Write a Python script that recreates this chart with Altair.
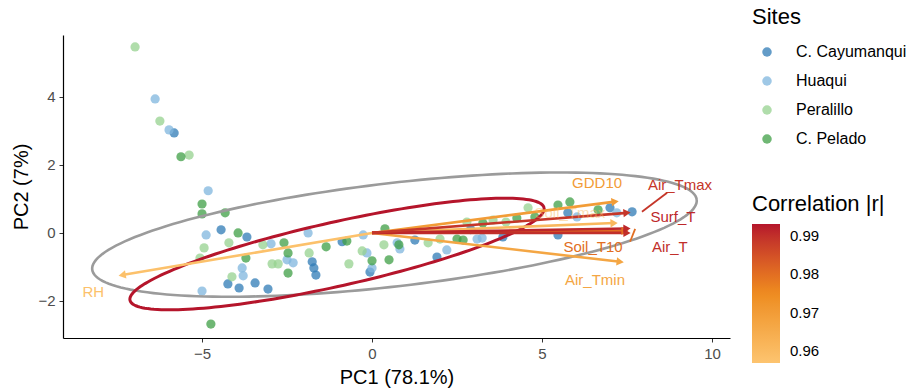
import altair as alt
import pandas as pd
import numpy as np

# ---------------- data ----------------
site_order = ["C. Cayumanqui", "Huaqui", "Peralillo", "C. Pelado"]
site_colors = ["#2f7bb6", "#7fb6dd", "#96d28f", "#3f9f45"]

cay_x = [-5.82, -4.44, -3.68, -4.24, -3.91, -3.44, -3.06, -1.76, -1.71, -1.65, -0.88, -0.06, 1.26, 1.91, 3.85, 5.76, 7.00, 7.65, 5.47, 2.90]
cay_y = [2.94, 0.09, -0.12, -1.50, -1.62, -1.47, -1.65, -0.85, -1.03, -1.24, -0.26, -1.15, -0.21, -0.71, -0.12, 0.59, 0.74, 0.62, -0.06, 0.10]

hua_x = [-6.38, -5.97, -4.82, -4.88, -3.82, -3.79, -5.00, -2.97, -2.50, -2.32, -1.88, -0.26, -0.15, 0.00, 0.74, 0.82, 2.20, 3.09, 3.24, 6.03, 7.20]
hua_y = [3.94, 3.03, 1.24, -0.06, -1.03, -1.26, -1.71, -0.32, -0.79, -0.88, 0.00, -0.06, -0.59, -1.03, -0.29, -0.47, -0.50, -0.18, -0.15, 0.47, 0.59]

per_x = [-6.97, -6.24, -5.38, -4.21, -4.94, -5.06, -4.12, -3.21, -2.94, -2.76, -1.85, -0.68, -0.29, 0.35, 1.65, 2.00, 2.79, 3.56, 3.94, 4.59]
per_y = [5.47, 3.29, 2.29, -0.29, -0.44, -0.74, -1.29, -0.35, -0.91, -0.91, -0.59, -0.91, -0.53, -0.35, -0.29, -0.18, 0.32, 0.38, 0.32, 0.74]

pel_x = [-5.62, -5.00, -5.00, -4.32, -3.94, -3.71, -4.74, -2.59, -2.47, -2.47, -1.35, -0.74, 0.00, 0.38, 0.50, 0.79, 2.50, 2.68, 3.26, 4.26, 4.79, 5.47, 5.82, 6.65]
pel_y = [2.24, 0.85, 0.56, 0.59, 0.00, -0.74, -2.68, -0.29, -0.59, -1.18, -0.41, -0.24, -0.82, 0.12, -0.79, -0.35, -0.18, -0.21, 0.29, 0.44, 0.47, 0.82, 0.91, 0.68]

var_names = ["RH", "Air_Tmin", "GDD10", "Soil_Tmax", "Soil_T10", "Air_T", "Surf_T", "Air_Tmax"]
var_pc1 = [-7.35, 7.30, 7.15, 7.12, 7.44, 7.50, 7.50, 7.50]
var_pc2 = [-1.24, -0.85, 0.92, 0.29, 0.06, 0.00, 0.13, 0.59]
var_r = [0.958, 0.967, 0.970, 0.961, 0.980, 0.990, 0.991, 0.989]
lab_x = [-8.20, 6.56, 6.62, 5.82, 6.50, 8.76, 8.85, 9.06]
lab_y = [-1.74, -1.38, 1.47, 0.59, -0.41, -0.41, 0.47, 1.41]

seg_names = ["Air_Tmax", "Soil_T10"]
seg_x1 = [7.94, 7.74]
seg_y1 = [0.62, 0.12]
seg_x2 = [8.68, 7.59]
seg_y2 = [1.18, -0.26]
seg_r = [0.989, 0.980]

ell_names = ["all", "group"]
ell_cx = [0.66, -1.03]
ell_cy = [-0.05, -0.62]
ell_a = [8.95, 6.24]
ell_b = [1.52, 0.94]
ell_deg = [6.6, 12.6]

x_ticks = [-5, 0, 5, 10]
y_ticks = [-2, 0, 2, 4]
x_dom = [-9.09, 10.53]
y_dom = [-3.09, 5.82]
r_ticks = [0.96, 0.97, 0.98, 0.99]
r_dom = [0.957, 0.993]
r_colors = ["#fdc46f", "#ee8c1f", "#b5152b"]

# ---------------- tables ----------------
pts = pd.concat([
    pd.DataFrame({"PC1": cay_x, "PC2": cay_y, "Site": site_order[0]}),
    pd.DataFrame({"PC1": hua_x, "PC2": hua_y, "Site": site_order[1]}),
    pd.DataFrame({"PC1": per_x, "PC2": per_y, "Site": site_order[2]}),
    pd.DataFrame({"PC1": pel_x, "PC2": pel_y, "Site": site_order[3]}),
], ignore_index=True)

arr = pd.DataFrame({"var": var_names, "pc1": var_pc1, "pc2": var_pc2, "r": var_r,
                    "lx": lab_x, "ly": lab_y, "x0": 0.0, "y0": 0.0})
segs = pd.DataFrame({"var": seg_names, "x1": seg_x1, "y1": seg_y1, "x2": seg_x2, "y2": seg_y2, "r": seg_r})

rows = []
t = np.linspace(0, 2 * np.pi, 181)
for n, cx, cy, a, b, d in zip(ell_names, ell_cx, ell_cy, ell_a, ell_b, ell_deg):
    th = np.deg2rad(d)
    ex = cx + a * np.cos(t) * np.cos(th) - b * np.sin(t) * np.sin(th)
    ey = cy + a * np.cos(t) * np.sin(th) + b * np.sin(t) * np.cos(th)
    for i, (u, v) in enumerate(zip(ex, ey)):
        rows.append({"ell": n, "ex": u, "ey": v, "i": i})
ell = pd.DataFrame(rows)

# ---------------- scales ----------------
xs = alt.Scale(domain=x_dom, nice=False, zero=False)
ys = alt.Scale(domain=y_dom, nice=False, zero=False)
xax = alt.Axis(values=x_ticks, title="PC1 (78.1%)", grid=False, titlePadding=6)
yax = alt.Axis(values=y_ticks, title="PC2 (7%)", grid=False, titlePadding=6)
rscale = alt.Scale(type="linear", domain=r_dom, range=r_colors)

points = alt.Chart(pts).mark_circle(size=85, opacity=0.75).encode(
    x=alt.X("PC1:Q", scale=xs, axis=xax),
    y=alt.Y("PC2:Q", scale=ys, axis=yax),
    color=alt.Color("Site:N", scale=alt.Scale(domain=site_order, range=site_colors),
                    sort=site_order,
                    legend=alt.Legend(title="Sites", orient="none", legendX=689, legendY=-28,
                                      titleFontSize=22, titleFontWeight="normal", titlePadding=15,
                                      labelFontSize=16, rowPadding=13, symbolSize=90,
                                      symbolType="circle", symbolOpacity=0.75, symbolStrokeWidth=0,
                                      symbolOffset=7, labelOffset=21)),
)

ell_gray = alt.Chart(ell[ell.ell == "all"]).mark_line(strokeWidth=2.6, color="#9b9b9b").encode(
    x=alt.X("ex:Q", scale=xs), y=alt.Y("ey:Q", scale=ys), order="i:Q")
ell_red = alt.Chart(ell[ell.ell == "group"]).mark_line(strokeWidth=3, color="#b5152b").encode(
    x=alt.X("ex:Q", scale=xs), y=alt.Y("ey:Q", scale=ys), order="i:Q")

rules = alt.Chart(arr).mark_rule(strokeWidth=2.6).encode(
    x=alt.X("x0:Q", scale=xs), y=alt.Y("y0:Q", scale=ys), x2="pc1:Q", y2="pc2:Q",
    color=alt.Color("r:Q", scale=rscale, legend=None),
)
heads = alt.Chart(arr).transform_calculate(
    ang="(360 - atan2(datum.pc2, datum.pc1) * 180 / PI) % 360"
).mark_point(shape="triangle-right", filled=True, size=70, opacity=1).encode(
    x=alt.X("pc1:Q", scale=xs), y=alt.Y("pc2:Q", scale=ys),
    angle=alt.Angle("ang:Q", scale=None),
    color=alt.Color("r:Q", scale=rscale, legend=None),
)
seg = alt.Chart(segs).mark_rule(strokeWidth=1.8).encode(
    x=alt.X("x1:Q", scale=xs), y=alt.Y("y1:Q", scale=ys), x2="x2:Q", y2="y2:Q",
    color=alt.Color("r:Q", scale=rscale, legend=None),
)
labels = alt.Chart(arr).mark_text(fontSize=15, font="Liberation Sans").encode(
    x=alt.X("lx:Q", scale=xs), y=alt.Y("ly:Q", scale=ys), text="var:N",
    color=alt.Color("r:Q", scale=rscale, legend=None),
    opacity=alt.condition(alt.datum["var"] == "Soil_Tmax", alt.value(0.45), alt.value(1.0)),
)

arrows = alt.layer(rules, seg, heads, labels)

# invisible layer that only carries the gradient legend
legend_layer = alt.Chart(arr).mark_square(opacity=0, size=1).encode(
    x=alt.X("x0:Q", scale=xs), y=alt.Y("y0:Q", scale=ys),
    color=alt.Color("r:Q", scale=alt.Scale(type="linear", domain=r_dom, range=r_colors),
                    legend=alt.Legend(type="gradient", title="Correlation |r|", orient="none",
                                      legendX=689, legendY=159,
                                      titleFontSize=22, titleFontWeight="normal", titlePadding=8,
                                      gradientLength=139, gradientThickness=28,
                                      values=r_ticks, format=".2f",
                                      labelFontSize=15, labelOffset=10, labelOverlap=False,
                                      gradientStrokeWidth=0, direction="vertical")),
)

chart = alt.layer(points, ell_gray, ell_red, arrows, legend_layer).resolve_scale(color="independent").properties(
    width=667, height=303,
    autosize=alt.AutoSizeParams(type="none"),
    padding={"left": 63, "top": 35, "right": 183, "bottom": 51},
    background="white",
).configure_view(stroke=None).configure_axis(
    domainColor="black", domainWidth=1.2, tickColor="#333333", tickSize=4, tickWidth=1,
    labelColor="#4d4d4d", labelFontSize=15, labelFont="Liberation Sans",
    titleFont="Liberation Sans", titleFontSize=20, titleFontWeight="normal", titleColor="black",
    labelPadding=4,
).configure_legend(labelFont="Liberation Sans", titleFont="Liberation Sans",
                   labelColor="black", titleColor="black", padding=0)

chart.save("out.html", embed_options={"renderer": "svg", "actions": False})
